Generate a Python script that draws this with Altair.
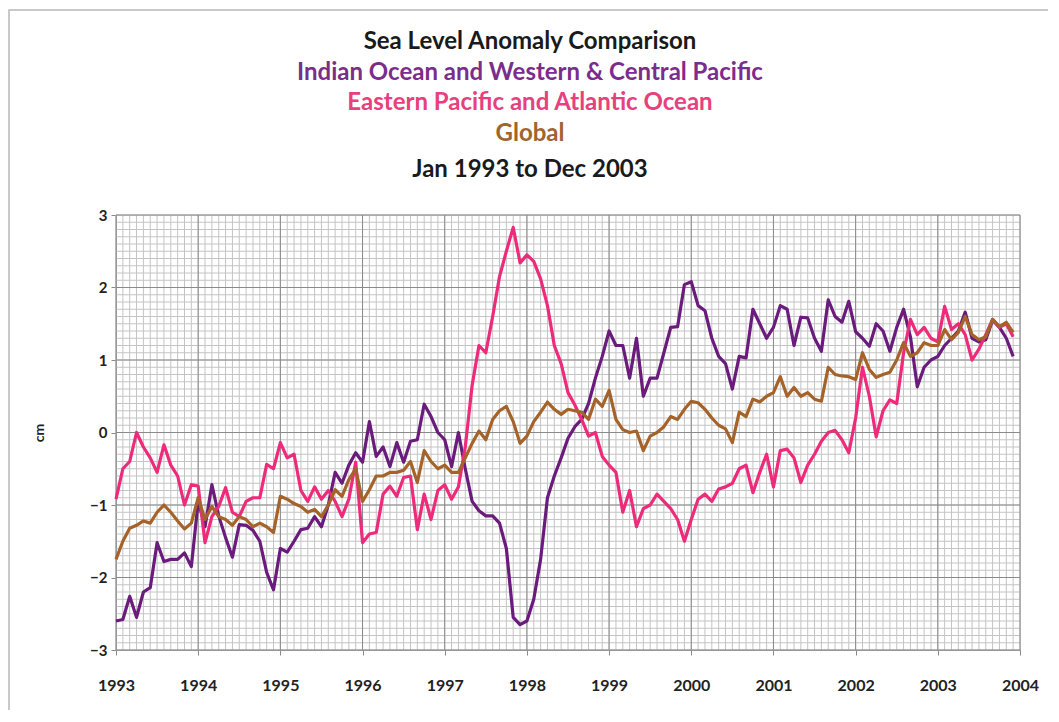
import altair as alt
import pandas as pd

# ---- data (monthly, Jan 1993 .. Dec 2003) ----
indian_wc_pacific = [
    -2.6, -2.58, -2.26, -2.55, -2.2, -2.14, -1.52, -1.78, -1.75, -1.75, -1.66, -1.85,
    -0.95, -1.3, -0.72, -1.15, -1.45, -1.72, -1.27, -1.28, -1.35, -1.5, -1.93, -2.17,
    -1.6, -1.65, -1.5, -1.34, -1.32, -1.16, -1.3, -1.0, -0.55, -0.7, -0.45, -0.28,
    -0.41, 0.15, -0.33, -0.2, -0.47, -0.14, -0.41, -0.12, -0.1, 0.39, 0.22, 0.0,
    -0.1, -0.47, 0.0, -0.5, -0.95, -1.08, -1.15, -1.15, -1.25, -1.6, -2.55, -2.65,
    -2.6, -2.3, -1.75, -0.9, -0.6, -0.35, -0.08, 0.08, 0.18, 0.4, 0.75, 1.05,
    1.4, 1.2, 1.2, 0.75, 1.3, 0.5, 0.75, 0.75, 1.1, 1.45, 1.46, 2.04,
    2.08, 1.75, 1.68, 1.3, 1.05, 0.95, 0.6, 1.05, 1.03, 1.7, 1.5, 1.3,
    1.45, 1.75, 1.7, 1.2, 1.59, 1.58, 1.3, 1.12, 1.83, 1.6, 1.52, 1.81,
    1.39, 1.3, 1.19, 1.5, 1.4, 1.12, 1.45, 1.7, 1.32, 0.63, 0.9, 1.0,
    1.05, 1.2, 1.3, 1.4, 1.66, 1.3, 1.25, 1.28, 1.55, 1.45, 1.3, 1.05,
]
east_pacific_atlantic = [
    -0.92, -0.5, -0.4, 0.0, -0.2, -0.35, -0.55, -0.17, -0.45, -0.6, -1.0, -0.72,
    -0.74, -1.52, -1.16, -1.02, -0.76, -1.1, -1.16, -0.95, -0.9, -0.9, -0.44, -0.5,
    -0.14, -0.35, -0.3, -0.8, -0.95, -0.75, -0.92, -0.8, -0.95, -1.16, -0.92, -0.41,
    -1.52, -1.4, -1.38, -0.85, -0.74, -0.88, -0.62, -0.6, -1.34, -0.85, -1.2, -0.8,
    -0.72, -0.92, -0.75, -0.2, 0.65, 1.2, 1.1, 1.6, 2.15, 2.5, 2.83, 2.34,
    2.45, 2.36, 2.12, 1.75, 1.2, 0.95, 0.55, 0.38, 0.18, -0.05, 0.0, -0.33,
    -0.45, -0.55, -1.1, -0.8, -1.3, -1.05, -1.0, -0.85, -0.95, -1.05, -1.2, -1.5,
    -1.2, -0.92, -0.85, -0.95, -0.78, -0.75, -0.7, -0.5, -0.45, -0.83, -0.55, -0.3,
    -0.75, -0.25, -0.23, -0.35, -0.69, -0.45, -0.3, -0.12, 0.0, 0.03, -0.1, -0.28,
    0.2, 0.9, 0.5, -0.06, 0.3, 0.45, 0.4, 1.1, 1.56, 1.35, 1.45, 1.3,
    1.25, 1.74, 1.42, 1.5, 1.35, 1.0, 1.15, 1.35, 1.56, 1.45, 1.5, 1.32,
]
global_sla = [
    -1.75, -1.5, -1.32, -1.28, -1.22, -1.25, -1.1, -1.0, -1.1, -1.22, -1.33, -1.25,
    -0.9, -1.2, -1.02, -1.16, -1.2, -1.28, -1.16, -1.2, -1.3, -1.25, -1.3, -1.38,
    -0.88, -0.92, -0.98, -1.02, -1.1, -1.06, -1.16, -1.0, -0.79, -0.88, -0.65, -0.5,
    -0.95, -0.79, -0.6, -0.6, -0.55, -0.55, -0.52, -0.4, -0.69, -0.25, -0.4, -0.5,
    -0.45, -0.55, -0.55, -0.35, -0.15, 0.02, -0.1, 0.18, 0.3, 0.36, 0.15, -0.15,
    -0.05, 0.15, 0.28, 0.42, 0.32, 0.25, 0.32, 0.3, 0.28, 0.18, 0.46, 0.36,
    0.58, 0.18, 0.04, 0.0, 0.02, -0.25, -0.05, 0.0, 0.08, 0.22, 0.18, 0.32,
    0.43, 0.41, 0.32, 0.2, 0.1, 0.05, -0.14, 0.28, 0.22, 0.46, 0.42, 0.5,
    0.55, 0.77, 0.5, 0.62, 0.5, 0.55, 0.46, 0.43, 0.9, 0.8, 0.78, 0.77,
    0.73, 1.1, 0.87, 0.76, 0.8, 0.83, 1.0, 1.24, 1.05, 1.1, 1.24, 1.2,
    1.2, 1.42, 1.28, 1.38, 1.6, 1.35, 1.28, 1.32, 1.56, 1.46, 1.52, 1.38,
]
series_names = [
    "Indian Ocean and Western & Central Pacific",
    "Eastern Pacific and Atlantic Ocean",
    "Global",
]
year_ticks = list(range(1993, 2005))
cm_ticks = [-3, -2, -1, 0, 1, 2, 3]
minor_x = [1993 + i / 12 for i in range(133)]
minor_y = [round(-3 + i / 10, 2) for i in range(61)]

PURPLE = "#6a1b7c"
PINK = "#ee2a7b"
BROWN = "#a5632a"
FONT = "Lato"
MAJOR = "#8a8a8a"
MINOR = "#c4c4c4"

t = [1993 + i / 12 for i in range(len(global_sla))]
rows = []
for name, vals in zip(series_names, [indian_wc_pacific, east_pacific_atlantic, global_sla]):
    for i, v in enumerate(vals):
        rows.append({"t": t[i], "v": v, "series": name, "order": i})
df = pd.DataFrame(rows)

xs = alt.Scale(domain=[1993, 2004], nice=False, zero=False)
ys = alt.Scale(domain=[-3, 3], nice=False, zero=False)

x_axis = alt.Axis(values=year_ticks, format="d", grid=False, tickSize=5,
                  tickColor=MAJOR, domainColor=MAJOR,
                  labelFont=FONT, labelFontSize=16, labelFontWeight="bold",
                  labelColor="#222", labelPadding=22, labelFlush=False,
                  labelOverlap=False, labelBound=False, title=None)
y_axis = alt.Axis(values=cm_ticks, format="d", grid=False, tickSize=5,
                  tickColor=MAJOR, domainColor=MAJOR,
                  labelFont=FONT, labelFontSize=15, labelFontWeight="bold",
                  labelColor="#222", labelPadding=4, labelFlush=False,
                  labelOverlap=False, title=None)

W, H = 904, 435

minor_v = alt.Chart(pd.DataFrame({"g": minor_x})).mark_rule(color=MINOR, strokeWidth=1).encode(
    x=alt.X("g:Q", scale=xs, axis=x_axis))
minor_h = alt.Chart(pd.DataFrame({"g": minor_y})).mark_rule(color=MINOR, strokeWidth=1).encode(
    y=alt.Y("g:Q", scale=ys, axis=y_axis))
major_v = alt.Chart(pd.DataFrame({"g": year_ticks})).mark_rule(color=MAJOR, strokeWidth=1).encode(
    x=alt.X("g:Q", scale=xs, axis=x_axis))
major_h = alt.Chart(pd.DataFrame({"g": cm_ticks})).mark_rule(color=MAJOR, strokeWidth=1).encode(
    y=alt.Y("g:Q", scale=ys, axis=y_axis))

lines = alt.Chart(df).mark_line(strokeWidth=3.2, strokeJoin="round").encode(
    x=alt.X("t:Q", scale=xs, axis=x_axis),
    y=alt.Y("v:Q", scale=ys, axis=y_axis),
    color=alt.Color("series:N", sort=series_names,
                    scale=alt.Scale(domain=series_names, range=[PURPLE, PINK, BROWN]),
                    legend=None),
    detail="series:N",
    order="order:Q",
)

one = pd.DataFrame({"k": [0]})

def title_line(text, color, ypos):
    return alt.Chart(pd.DataFrame({"txt": [text]})).mark_text(
        font=FONT, fontSize=24, fontWeight="bold", color=color,
        align="center", baseline="middle").encode(
        text="txt:N", x=alt.value(414), y=alt.value(ypos))

titles = (
    title_line("Sea Level Anomaly Comparison", "#1a1a1a", -173)
    + title_line("Indian Ocean and Western & Central Pacific", "#7b2d8b", -142)
    + title_line("Eastern Pacific and Atlantic Ocean", "#e8407e", -112)
    + title_line("Global", "#a0652f", -81)
    + title_line("Jan 1993 to Dec 2003", "#1a1a1a", -45)
)

ytitle = alt.Chart(pd.DataFrame({"txt": ["cm"]})).mark_text(
    font=FONT, fontSize=14, fontWeight="bold", color="#222", angle=270,
    align="center", baseline="middle").encode(
    text="txt:N", x=alt.value(-76), y=alt.value(218))

frame = alt.Chart(one).mark_rect(fill=None, stroke="#b8b8b8", strokeWidth=1.5).encode(
    x=alt.value(-107), x2=alt.value(934), y=alt.value(-205), y2=alt.value(498))

chart = alt.layer(
    frame, minor_v, minor_h, major_v, major_h, lines, titles, ytitle
).properties(
    width=W, height=H,
    autosize=alt.AutoSizeParams(type="none"),
    padding={"left": 108, "top": 207, "right": 28, "bottom": 60},
).configure_view(stroke=MAJOR, strokeWidth=1).configure(background="white")

chart.save("out.html", embed_options={"renderer": "svg", "actions": False})
